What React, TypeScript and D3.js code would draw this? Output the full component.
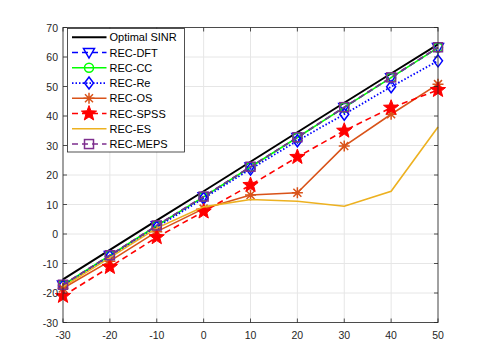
import React from "react";
import * as d3 from "d3";

const snr = [-30, -20, -10, 0, 10, 20, 30, 40, 50];
const yTicks = [-30, -20, -10, 0, 10, 20, 30, 40, 50, 60, 70];

const optimal = [-15.4, -5.4, 4.6, 14.5, 24.5, 34.5, 44.5, 54.4, 64.3];
const recDFT = [-17.3, -7.3, 2.8, 12.6, 22.7, 32.7, 42.9, 53.0, 63.2];
const recCC = [-17.3, -7.3, 2.8, 12.6, 22.7, 32.7, 42.9, 53.0, 63.2];
const recRe = [-17.6, -7.6, 2.3, 12.1, 22.0, 31.6, 40.6, 49.9, 58.7];
const recOS = [-18.4, -9.2, 0.8, 8.6, 13.2, 14.0, 29.8, 40.6, 50.8];
const recSPSS = [-21.0, -11.2, -1.1, 7.6, 16.6, 26.1, 35.0, 42.8, 48.8];
const recES = [-17.9, -8.0, 2.0, 9.2, 11.7, 11.1, 9.4, 14.5, 36.3];
const recMEPS = [-17.2, -7.2, 2.9, 12.7, 22.8, 32.8, 43.0, 53.1, 63.3];

type Marker = "none" | "tri" | "circle" | "diamond" | "asterisk" | "star" | "square";

const series: { name: string; values: number[]; color: string; dash: string; width: number; marker: Marker }[] = [
  { name: "Optimal SINR", values: optimal, color: "#000000", dash: "", width: 2, marker: "none" },
  { name: "REC-DFT", values: recDFT, color: "#0000ff", dash: "6,4", width: 1.6, marker: "tri" },
  { name: "REC-CC", values: recCC, color: "#00ff00", dash: "", width: 1.6, marker: "circle" },
  { name: "REC-Re", values: recRe, color: "#0000ff", dash: "1.5,2", width: 1.8, marker: "diamond" },
  { name: "REC-OS", values: recOS, color: "#d95319", dash: "", width: 1.6, marker: "asterisk" },
  { name: "REC-SPSS", values: recSPSS, color: "#ff0000", dash: "6,4", width: 1.6, marker: "star" },
  { name: "REC-ES", values: recES, color: "#edb120", dash: "", width: 1.6, marker: "none" },
  { name: "REC-MEPS", values: recMEPS, color: "#7e2f8e", dash: "6,4", width: 1.6, marker: "square" },
];

function starPath(r: number) {
  const pts: string[] = [];
  for (let i = 0; i < 10; i++) {
    const a = -Math.PI / 2 + (i * Math.PI) / 5;
    const rr = i % 2 === 0 ? r : r * 0.42;
    pts.push(`${(rr * Math.cos(a)).toFixed(2)},${(rr * Math.sin(a)).toFixed(2)}`);
  }
  return "M" + pts.join("L") + "Z";
}

function MarkerShape({ type, x, y, color }: { type: Marker; x: number; y: number; color: string }) {
  const t = `translate(${x},${y})`;
  const common = { fill: "none", stroke: color, strokeWidth: 1.5 };
  switch (type) {
    case "tri":
      return <path transform={t} d="M-5.5,-4L5.5,-4L0,5.5Z" {...common} />;
    case "circle":
      return <circle cx={x} cy={y} r={4.5} {...common} />;
    case "diamond":
      return <path transform={t} d="M0,-6L4.5,0L0,6L-4.5,0Z" {...common} />;
    case "square":
      return <rect x={x - 4.5} y={y - 4.5} width={9} height={9} {...common} />;
    case "asterisk":
      return (
        <path
          transform={t}
          d="M-5.5,0L5.5,0M0,-5.5L0,5.5M-4,-4L4,4M-4,4L4,-4"
          stroke={color}
          strokeWidth={1.5}
        />
      );
    case "star":
      return <path transform={t} d={starPath(8)} fill={color} stroke={color} strokeWidth={1} />;
    default:
      return null;
  }
}

export default function App() {
  const width = 485;
  const height = 363;
  const margin = { top: 27.5, right: 47, bottom: 40.5, left: 63 };

  const x = d3.scaleLinear().domain([-30, 50]).range([margin.left, width - margin.right]);
  const y = d3.scaleLinear().domain([-30, 70]).range([height - margin.bottom, margin.top]);

  const line = d3
    .line<number>()
    .x((_, i) => x(snr[i]))
    .y((d) => y(d));

  const font = "Helvetica, 'Liberation Sans', Arial, sans-serif";
  const x0 = margin.left;
  const x1 = width - margin.right;
  const y0 = height - margin.bottom;
  const y1 = margin.top;

  const legend = { x: 67.5, y: 28.5, w: 117, h: 123.5, row: 15.25 };

  return (
    <svg
      width={width}
      height={height}
      style={{ position: "absolute", left: 0, top: 0, background: "#fff" }}
      fontFamily={font}
    >
      <rect x={x0} y={y1} width={x1 - x0} height={y0 - y1} fill="#fff" />
      {/* grid */}
      {snr.map((v) => (
        <line key={"gx" + v} x1={x(v)} x2={x(v)} y1={y0} y2={y1} stroke="#e6e6e6" strokeWidth={1} />
      ))}
      {yTicks.map((v) => (
        <line key={"gy" + v} x1={x0} x2={x1} y1={y(v)} y2={y(v)} stroke="#e6e6e6" strokeWidth={1} />
      ))}

      {/* series */}
      {series.map((s) => (
        <g key={s.name}>
          <path d={line(s.values) || ""} fill="none" stroke={s.color} strokeWidth={s.width} strokeDasharray={s.dash} />
          {s.marker !== "none" &&
            s.values.map((v, i) => <MarkerShape key={i} type={s.marker} x={x(snr[i])} y={y(v)} color={s.color} />)}
        </g>
      ))}

      {/* axes box and ticks */}
      <rect x={x0} y={y1} width={x1 - x0} height={y0 - y1} fill="none" stroke="#262626" strokeWidth={0.8} />
      {snr.map((v) => (
        <g key={"tx" + v}>
          <line x1={x(v)} x2={x(v)} y1={y0} y2={y0 - 4} stroke="#262626" strokeWidth={0.8} />
          <line x1={x(v)} x2={x(v)} y1={y1} y2={y1 + 4} stroke="#262626" strokeWidth={0.8} />
          <text x={x(v)} y={y0 + 16.5} textAnchor="middle" fontSize={10.5} fill="#262626">
            {v}
          </text>
        </g>
      ))}
      {yTicks.map((v) => (
        <g key={"ty" + v}>
          <line x1={x0} x2={x0 + 4} y1={y(v)} y2={y(v)} stroke="#262626" strokeWidth={0.8} />
          <line x1={x1} x2={x1 - 4} y1={y(v)} y2={y(v)} stroke="#262626" strokeWidth={0.8} />
          <text x={x0 - 5} y={y(v) + 4} textAnchor="end" fontSize={10.5} fill="#262626">
            {v}
          </text>
        </g>
      ))}

      {/* legend */}
      <rect x={legend.x} y={legend.y} width={legend.w} height={legend.h} fill="#fff" stroke="#262626" strokeWidth={0.8} />
      {series.map((s, i) => {
        const ly = legend.y + 8.8 + i * legend.row;
        return (
          <g key={"lg" + s.name}>
            <line x1={72} x2={106.5} y1={ly} y2={ly} stroke={s.color} strokeWidth={s.width} strokeDasharray={s.dash} />
            {s.marker !== "none" && <MarkerShape type={s.marker} x={89} y={ly} color={s.color} />}
            <text x={109.5} y={ly + 4} fontSize={11} fill="#000">
              {s.name}
            </text>
          </g>
        );
      })}
    </svg>
  );
}
